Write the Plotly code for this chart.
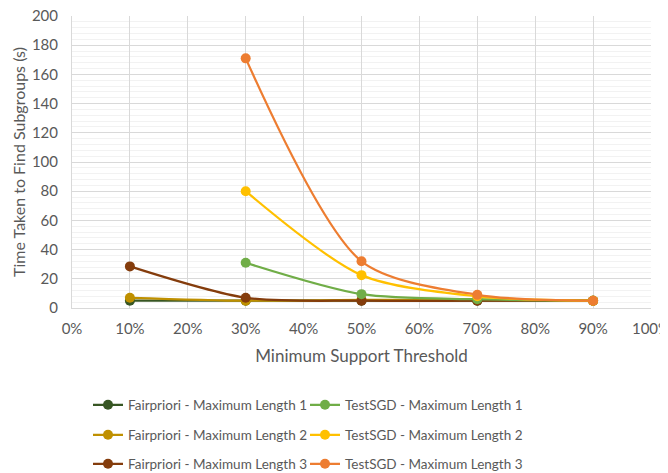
import plotly.graph_objects as go

thresholds = [0.1, 0.3, 0.5, 0.7, 0.9]
fp_len1 = [5, 5, 5, 5, 5]
fp_len2 = [7, 5, 5.5, 5.5, 5]
fp_len3 = [28.5, 7, 5, 5, 5]
sgd_thresholds = [0.3, 0.5, 0.7, 0.9]
sgd_len1 = [31, 9.5, 6, 5]
sgd_len2 = [80, 22.5, 8, 5]
sgd_len3 = [171, 32, 9, 5]

names = ["Fairpriori - Maximum Length 1", "TestSGD - Maximum Length 1",
         "Fairpriori - Maximum Length 2", "TestSGD - Maximum Length 2",
         "Fairpriori - Maximum Length 3", "TestSGD - Maximum Length 3"]
colors = ["#375623", "#70AD47", "#BF9000", "#FFC000", "#843C0C", "#ED7D31"]
xs = [thresholds, sgd_thresholds] * 3
ys = [fp_len1, sgd_len1, fp_len2, sgd_len2, fp_len3, sgd_len3]

FONT = "Lato"
TXT = "#595959"
W, H = 668, 473
OFF = 8  # page body margin offset

legend_ids = ["legend", "legend2", "legend3", "legend4", "legend5", "legend6"]
col_x = [88, 305]
row_y = [405, 435, 464]

fig = go.Figure()
order = [0, 2, 4, 1, 3, 5]
for i in order:
    fig.add_trace(go.Scatter(
        x=xs[i], y=ys[i], name=names[i], mode="lines+markers",
        line=dict(color=colors[i], width=2.25, shape="spline", smoothing=0.8),
        marker=dict(color=colors[i], size=10),
        legend=legend_ids[i],
    ))

legend_layout = {}
for i, lid in enumerate(legend_ids):
    legend_layout[lid] = dict(
        orientation="h", xref="container", yref="container",
        x=(col_x[i % 2] - OFF)/W, xanchor="left",
        y=1-(row_y[i // 2] - OFF)/H, yanchor="middle",
        font=dict(family=FONT, size=13.5, color=TXT),
        bgcolor="rgba(0,0,0,0)")

fig.update_layout(
    width=W, height=H,
    margin=dict(l=72 - OFF, r=W - (651 - OFF), t=16 - OFF, b=H - (308 - OFF), autoexpand=False),
    paper_bgcolor="white", plot_bgcolor="white",
    font=dict(family=FONT, size=14, color=TXT),
    showlegend=True,
    **legend_layout,
    xaxis=dict(range=[0, 1], tickvals=[i/10 for i in range(11)], tickformat=".0%",
               showgrid=True, gridcolor="#D9D9D9", gridwidth=1,
               zeroline=False, showline=True, linecolor="#D9D9D9",
               ticks="", ticklabelstandoff=7, ticklabeloverflow="allow",
               tickfont=dict(family=FONT, size=15, color=TXT),
               title=dict(text="Minimum Support Threshold", font=dict(family=FONT, size=17, color=TXT), standoff=14)),
    yaxis=dict(range=[0, 200], tickvals=list(range(0, 201, 20)),
               showgrid=True, gridcolor="#D9D9D9", gridwidth=1,
               minor=dict(dtick=4, showgrid=True, gridcolor="#F2F2F2", gridwidth=1),
               zeroline=False, showline=True, linecolor="#D9D9D9",
               ticks="", ticklabelstandoff=10, ticklabeloverflow="allow",
               tickfont=dict(family=FONT, size=15, color=TXT),
               title=dict(text="Time Taken to Find Subgroups (s)", font=dict(family=FONT, size=16, color=TXT), standoff=2)),
)

fig.write_html("out.html")
